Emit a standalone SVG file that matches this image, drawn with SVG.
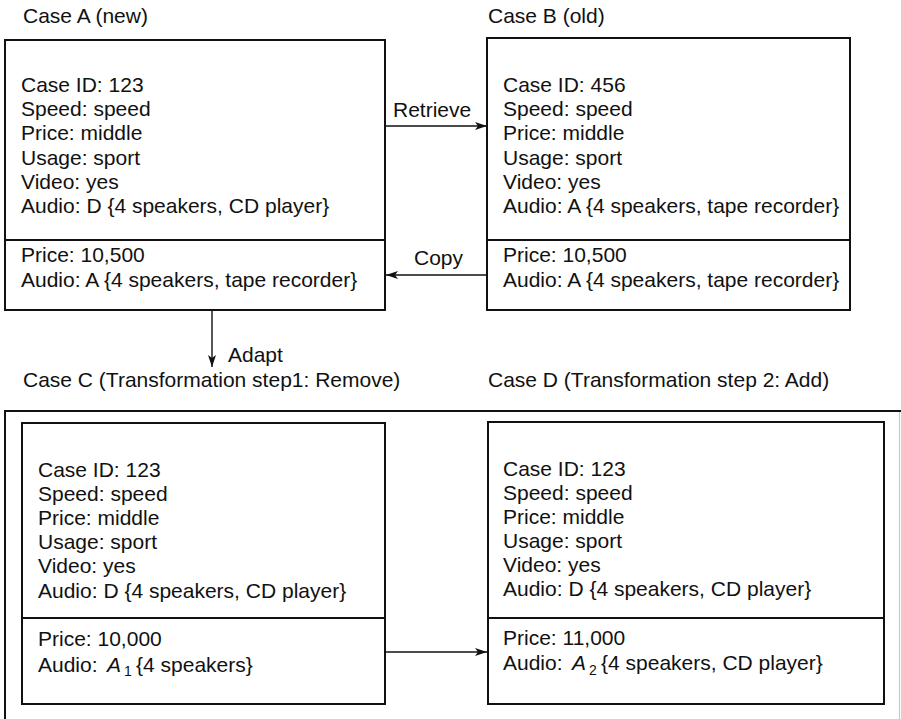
<svg xmlns="http://www.w3.org/2000/svg" width="901" height="719" viewBox="0 0 901 719">
  <style>
    text { font-family: "Liberation Sans", Arial, Helvetica, sans-serif; font-size: 21px; fill: #111; }
    .box { fill: #fff; stroke: #111; stroke-width: 2; }
    .div { stroke: #111; stroke-width: 2; }
    .edge { stroke: #111; stroke-width: 1.4; fill: none; }
    .it { font-style: italic; }
    .sub { font-size: 14px; }
  </style>
  <defs>
    <marker id="arrow" viewBox="0 0 12 8" refX="12" refY="4" markerWidth="12" markerHeight="8" markerUnits="userSpaceOnUse" orient="auto">
      <path d="M0,0 L12,4 L0,8 L3,4 Z" fill="#111"/>
    </marker>
  </defs>
  <rect width="901" height="719" fill="#fff"/>

  <!-- titles -->
  <g id="titles">
    <text x="23" y="23">Case A (new)</text>
    <text x="488" y="23">Case B (old)</text>
    <text x="23" y="387">Case C (Transformation step1: Remove)</text>
    <text x="488" y="387">Case D (Transformation step 2: Add)</text>
  </g>

  <!-- frame around the transformation steps -->
  <g id="frame">
    <path d="M5,719 V411 H901" fill="none" stroke="#111" stroke-width="2"/>
    <line x1="899.5" y1="412" x2="899.5" y2="719" stroke="#c8c8c8" stroke-width="1.2"/>
  </g>

  <!-- Case A -->
  <g id="caseA">
    <rect class="box" x="5" y="40" width="380" height="270"/>
    <line class="div" x1="5" y1="240" x2="385" y2="240"/>
    <text x="21" y="92">Case ID: 123</text>
    <text x="21" y="116">Speed: speed</text>
    <text x="21" y="140">Price: middle</text>
    <text x="21" y="165">Usage: sport</text>
    <text x="21" y="189">Video: yes</text>
    <text x="21" y="213">Audio: D {4 speakers, CD player}</text>
    <text x="21" y="262">Price: 10,500</text>
    <text x="21" y="287">Audio: A {4 speakers, tape recorder}</text>
  </g>

  <!-- Case B -->
  <g id="caseB">
    <rect class="box" x="487" y="38" width="363" height="272"/>
    <line class="div" x1="487" y1="240" x2="850" y2="240"/>
    <text x="503" y="92">Case ID: 456</text>
    <text x="503" y="116">Speed: speed</text>
    <text x="503" y="140">Price: middle</text>
    <text x="503" y="165">Usage: sport</text>
    <text x="503" y="189">Video: yes</text>
    <text x="503" y="213">Audio: A {4 speakers, tape recorder}</text>
    <text x="503" y="262">Price: 10,500</text>
    <text x="503" y="287">Audio: A {4 speakers, tape recorder}</text>
  </g>

  <!-- Case C -->
  <g id="caseC">
    <rect class="box" x="22" y="423" width="363" height="281"/>
    <line class="div" x1="22" y1="618" x2="385" y2="618"/>
    <text x="38" y="477">Case ID: 123</text>
    <text x="38" y="501">Speed: speed</text>
    <text x="38" y="525">Price: middle</text>
    <text x="38" y="549">Usage: sport</text>
    <text x="38" y="573">Video: yes</text>
    <text x="38" y="598">Audio: D {4 speakers, CD player}</text>
    <text x="38" y="646">Price: 10,000</text>
    <text x="38" y="672">Audio: <tspan class="it" x="107">A</tspan><tspan class="sub" x="124" dy="4">1</tspan><tspan x="136" dy="-4">{4 speakers}</tspan></text>
  </g>

  <!-- Case D -->
  <g id="caseD">
    <rect class="box" x="488" y="422" width="396" height="282"/>
    <line class="div" x1="488" y1="618" x2="884" y2="618"/>
    <text x="503" y="476">Case ID: 123</text>
    <text x="503" y="500">Speed: speed</text>
    <text x="503" y="524">Price: middle</text>
    <text x="503" y="548">Usage: sport</text>
    <text x="503" y="572">Video: yes</text>
    <text x="503" y="596">Audio: D {4 speakers, CD player}</text>
    <text x="503" y="645">Price: 11,000</text>
    <text x="503" y="670">Audio: <tspan class="it" x="572">A</tspan><tspan class="sub" x="589" dy="5">2</tspan><tspan x="601" dy="-5">{4 speakers, CD player}</tspan></text>
  </g>

  <!-- connectors -->
  <g id="connectors">
    <line class="edge" x1="385" y1="126" x2="487" y2="126" marker-end="url(#arrow)"/>
    <text x="393" y="117">Retrieve</text>
    <line class="edge" x1="487" y1="275" x2="386" y2="275" marker-end="url(#arrow)"/>
    <text x="414" y="265">Copy</text>
    <line class="edge" x1="212" y1="311" x2="212" y2="367" marker-end="url(#arrow)"/>
    <text x="228" y="362">Adapt</text>
    <line class="edge" x1="385" y1="652" x2="487" y2="652" marker-end="url(#arrow)"/>
  </g>
</svg>
